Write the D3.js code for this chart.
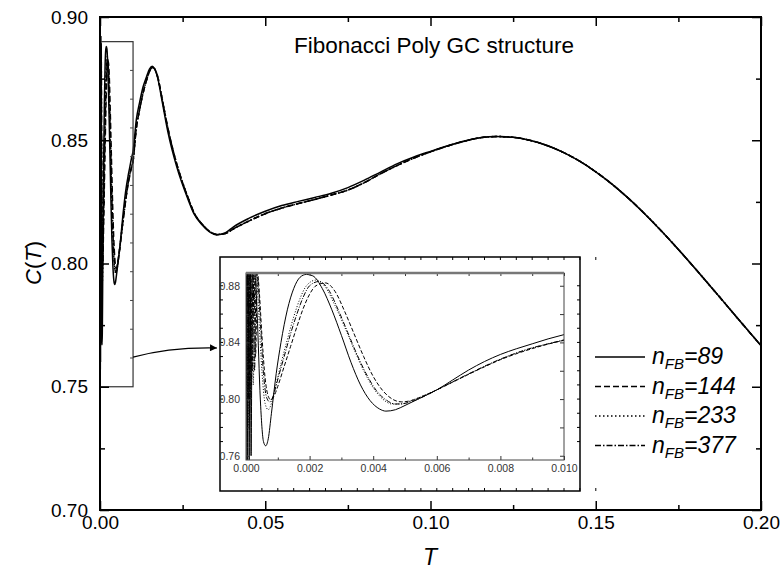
<!DOCTYPE html>
<html>
<head>
<meta charset="utf-8">
<script src="https://cdn.jsdelivr.net/npm/d3@7"></script>
<style>
  body { margin: 0; background: #fff; }
  svg { display: block; font-family: "Liberation Sans", Arial, sans-serif; }
</style>
</head>
<body>
<svg id="chart" width="784" height="569"></svg>
<script>

// ---- data ----
// early part of each series, T <= 0.010 (what the inset shows)
let series89 = [[0,0.757],[0.00002,0.889],[0.00004,0.757],[0.00007,0.889],[0.0001,0.757],[0.00013,0.889],[0.00016,0.76],[0.0002,0.889],[0.00026,0.892],[0.00035,0.86],[0.00045,0.80],[0.00055,0.770],[0.00062,0.767],[0.0007,0.772],[0.0008,0.79],[0.00095,0.818],[0.0011,0.84],[0.0013,0.863],[0.0015,0.878],[0.0017,0.886],[0.0019,0.888],[0.0021,0.887],[0.0024,0.878],[0.0027,0.863],[0.003,0.845],[0.0033,0.826],[0.0036,0.81],[0.0039,0.799],[0.0042,0.793],[0.0044,0.7915],[0.0047,0.7925],[0.005,0.7955],[0.0055,0.801],[0.006,0.8065],[0.0065,0.8135],[0.007,0.8205],[0.0075,0.8265],[0.008,0.8315],[0.0085,0.8355],[0.009,0.839],[0.0095,0.8425],[0.01,0.8455]];

let series144 = [[0,0.81],[0.00005,0.889],[0.0001,0.81],[0.00015,0.889],[0.0002,0.82],[0.00025,0.889],[0.0003,0.83],[0.00036,0.889],[0.00042,0.875],[0.0005,0.845],[0.0006,0.815],[0.0007,0.802],[0.00078,0.7995],[0.0009,0.803],[0.001,0.809],[0.0012,0.823],[0.0014,0.837],[0.0016,0.851],[0.0018,0.864],[0.002,0.874],[0.0022,0.880],[0.0025,0.882],[0.0028,0.876],[0.0031,0.862],[0.0034,0.846],[0.0037,0.830],[0.004,0.816],[0.0043,0.806],[0.0046,0.800],[0.0049,0.798],[0.0052,0.799],[0.0056,0.8025],[0.006,0.8065],[0.0065,0.812],[0.007,0.8175],[0.0075,0.8228],[0.008,0.8278],[0.0085,0.832],[0.009,0.8356],[0.0095,0.8388],[0.01,0.8415]];

let series233 = [[0,0.80],[0.00003,0.889],[0.00006,0.78],[0.0001,0.889],[0.00014,0.80],[0.00018,0.889],[0.00023,0.81],[0.00028,0.887],[0.00033,0.889],[0.0004,0.86],[0.0005,0.82],[0.0006,0.797],[0.0007,0.7925],[0.0008,0.797],[0.0009,0.806],[0.0011,0.825],[0.0013,0.842],[0.0015,0.858],[0.0017,0.871],[0.0019,0.880],[0.0022,0.884],[0.0025,0.879],[0.0028,0.866],[0.0031,0.851],[0.0034,0.835],[0.0037,0.82],[0.004,0.808],[0.0043,0.800],[0.0046,0.7965],[0.0049,0.7965],[0.0052,0.799],[0.0056,0.8025],[0.006,0.8065],[0.0065,0.812],[0.007,0.8175],[0.0075,0.823],[0.008,0.828],[0.0085,0.8325],[0.009,0.836],[0.0095,0.839],[0.01,0.8415]];

let series377 = [[0,0.82],[0.00004,0.889],[0.00008,0.80],[0.00012,0.889],[0.00017,0.81],[0.00022,0.889],[0.00027,0.82],[0.00032,0.888],[0.00037,0.885],[0.00045,0.855],[0.00055,0.818],[0.00065,0.801],[0.00075,0.798],[0.00085,0.802],[0.001,0.814],[0.0012,0.830],[0.0014,0.846],[0.0016,0.860],[0.0018,0.872],[0.002,0.880],[0.0023,0.883],[0.0026,0.877],[0.0029,0.863],[0.0032,0.847],[0.0035,0.831],[0.0038,0.817],[0.0041,0.806],[0.0044,0.7995],[0.0047,0.7965],[0.005,0.797],[0.0053,0.799],[0.0057,0.803],[0.006,0.8065],[0.0065,0.8122],[0.007,0.8178],[0.0075,0.8232],[0.008,0.8282],[0.0085,0.8325],[0.009,0.8362],[0.0095,0.839],[0.01,0.8418]];

// rest of the curve, T > 0.010 (main plot). n=89 and the three longer chains
let tailT = [0.011,0.012,0.013,0.014,0.015,0.0158,0.0165,0.0175,0.0187,0.0206,0.0232,0.0267,0.0285,0.031,0.0335,0.0353,0.038,0.0403,0.045,0.05,0.055,0.06,0.065,0.07,0.075,0.08,0.085,0.09,0.095,0.1,0.105,0.11,0.115,0.12,0.125,0.13,0.135,0.14,0.145,0.15,0.155,0.16,0.165,0.17,0.175,0.18,0.185,0.19,0.195,0.2];
let tail89 = [0.8585,0.8655,0.8715,0.8755,0.879,0.880,0.879,0.875,0.8665,0.853,0.8393,0.8258,0.820,0.8155,0.8125,0.8116,0.8125,0.8148,0.8183,0.8212,0.8235,0.8252,0.8268,0.8285,0.8308,0.8338,0.8372,0.8405,0.8432,0.8455,0.8477,0.8496,0.851,0.8515,0.8512,0.850,0.848,0.8452,0.8416,0.8372,0.8321,0.8263,0.8199,0.813,0.8057,0.7981,0.7903,0.7824,0.7745,0.7667];
let tailOthers = [0.855,0.8625,0.869,0.874,0.878,0.8795,0.879,0.8755,0.8675,0.8545,0.8405,0.8265,0.8205,0.8158,0.8127,0.8118,0.8122,0.814,0.8172,0.8202,0.8225,0.8243,0.826,0.8278,0.8298,0.8328,0.8365,0.8398,0.8428,0.8453,0.8476,0.8495,0.851,0.8515,0.8512,0.850,0.848,0.8452,0.8416,0.8372,0.8321,0.8263,0.8199,0.813,0.8057,0.7981,0.7903,0.7824,0.7745,0.7667];

let legendValues = [89, 144, 233, 377];
let dashStyles = ["none", "6,3", "1.5,2.5", "6,2,1.5,2"];
let insetDash = ["none", "4,2", "1,1.8", "5,1.5,1,1.5"];

let xTicks = [0, 0.05, 0.10, 0.15, 0.20];
let yTicks = [0.70, 0.75, 0.80, 0.85, 0.90];
let insetXTicks = [0, 0.002, 0.004, 0.006, 0.008, 0.010];
let insetYTicks = [0.76, 0.80, 0.84, 0.88];

// zoom window drawn on the main plot
let zoomT = [0, 0.01];
let zoomC = [0.75, 0.89];

// ---- build full series ----
function withTail(early, tail) {
    let out = early.slice();
    tailT.forEach(function(t, i) { out.push([t, tail[i]]); });
    return out;
}
let allSeries = [
    withTail(series89, tail89),
    withTail(series144, tailOthers),
    withTail(series233, tailOthers),
    withTail(series377, tailOthers)
];
let insetSeries = [series89, series144, series233, series377];

const svg = d3.select("#chart");

// ---- main plot ----
let x = d3.scaleLinear().domain([0, 0.2]).range([100, 761]);
let y = d3.scaleLinear().domain([0.7, 0.9]).range([510, 17]);

svg.append("clipPath").attr("id", "mainClip")
    .append("rect").attr("x", 100).attr("y", 17).attr("width", 661).attr("height", 493);

let line = d3.line()
    .x(d => x(d[0]))
    .y(d => y(d[1]))
    .curve(d3.curveMonotoneX);

svg.append("g").attr("clip-path", "url(#mainClip)")
    .selectAll("path")
    .data(allSeries)
    .enter()
    .append("path")
    .attr("d", line)
    .attr("fill", "none")
    .attr("stroke", "#000")
    .attr("stroke-width", 1.5)
    .attr("stroke-dasharray", (d, i) => dashStyles[i]);

// zoom window rectangle
svg.append("rect")
    .attr("x", x(zoomT[0]))
    .attr("y", y(zoomC[1]))
    .attr("width", x(zoomT[1]) - x(zoomT[0]))
    .attr("height", y(zoomC[0]) - y(zoomC[1]))
    .attr("fill", "none")
    .attr("stroke", "#333")
    .attr("stroke-width", 1.2);

// little ticks on the window's right edge
svg.append("g").selectAll("line")
    .data(d3.range(1, 12).map(k => zoomC[0] + k * (zoomC[1] - zoomC[0]) / 12))
    .enter().append("line")
    .attr("x1", x(zoomT[1])).attr("x2", x(zoomT[1]) - 3)
    .attr("y1", d => y(d)).attr("y2", d => y(d))
    .attr("stroke", "#444").attr("stroke-width", 1);

// axes (ticks point inward, minor ticks in between)
function styleAxis(g) {
    g.select(".domain").remove();
    g.selectAll(".tick line").attr("stroke", "#000").attr("stroke-width", 1.5);
    g.selectAll(".tick text").attr("fill", "#000").attr("font-size", 19)
        .attr("font-family", "'Liberation Sans', Arial, sans-serif");
}
let xMinor = d3.range(0.025, 0.2, 0.05);
let yMinor = d3.range(0.725, 0.9, 0.05);

svg.append("g").attr("transform", "translate(0,510)")
    .call(d3.axisBottom(x).tickValues(xTicks).tickFormat(d3.format(".2f")).tickSize(-9).tickPadding(6))
    .call(styleAxis);
svg.append("g").attr("transform", "translate(0,510)")
    .call(d3.axisBottom(x).tickValues(xMinor).tickFormat("").tickSize(-5))
    .call(styleAxis);
svg.append("g").attr("transform", "translate(0,17)")
    .call(d3.axisTop(x).tickValues(xTicks).tickFormat("").tickSize(-9))
    .call(styleAxis);
svg.append("g").attr("transform", "translate(0,17)")
    .call(d3.axisTop(x).tickValues(xMinor).tickFormat("").tickSize(-5))
    .call(styleAxis);
svg.append("g").attr("transform", "translate(100,0)")
    .call(d3.axisLeft(y).tickValues(yTicks).tickFormat(d3.format(".2f")).tickSize(-9).tickPadding(12))
    .call(styleAxis);
svg.append("g").attr("transform", "translate(100,0)")
    .call(d3.axisLeft(y).tickValues(yMinor).tickFormat("").tickSize(-5))
    .call(styleAxis);
svg.append("g").attr("transform", "translate(761,0)")
    .call(d3.axisRight(y).tickValues(yTicks).tickFormat("").tickSize(-9))
    .call(styleAxis);
svg.append("g").attr("transform", "translate(761,0)")
    .call(d3.axisRight(y).tickValues(yMinor).tickFormat("").tickSize(-5))
    .call(styleAxis);

// frame
svg.append("rect").attr("x", 100).attr("y", 17).attr("width", 661).attr("height", 493)
    .attr("fill", "none").attr("stroke", "#000").attr("stroke-width", 2);

// axis titles
svg.append("text").attr("x", 430).attr("y", 565)
    .attr("text-anchor", "middle").attr("font-size", 23).attr("font-style", "italic")
    .text("T");
svg.append("text").attr("transform", "translate(41,263) rotate(-90)")
    .attr("text-anchor", "middle").attr("font-size", 22)
    .html("<tspan font-style='italic'>C</tspan>(<tspan font-style='italic'>T</tspan>)");

svg.append("text").attr("x", 294).attr("y", 53)
    .attr("font-size", 22.5)
    .text("Fibonacci Poly GC structure");

// ---- legend ----
let legend = svg.append("g").selectAll("g")
    .data(legendValues)
    .enter().append("g")
    .attr("transform", (d, i) => "translate(0," + (364 + i * 29.5) + ")");
legend.append("line")
    .attr("x1", 595).attr("x2", 645).attr("y1", -7).attr("y2", -7)
    .attr("stroke", "#000").attr("stroke-width", 1.3)
    .attr("stroke-dasharray", (d, i) => dashStyles[i]);
let lt = legend.append("text").attr("x", 652).attr("y", 0)
    .attr("font-size", 23).attr("font-style", "italic");
lt.append("tspan").text("n");
lt.append("tspan").attr("font-size", 15).attr("dy", 5).text("FB");
lt.append("tspan").attr("dy", -5).text(d => "=" + d);

// ---- arrow from window to inset ----
svg.append("defs").append("marker")
    .attr("id", "arrowHead").attr("viewBox", "0 0 10 10")
    .attr("refX", 10).attr("refY", 5)
    .attr("markerWidth", 9).attr("markerHeight", 7)
    .attr("markerUnits", "userSpaceOnUse")
    .attr("orient", "auto")
    .append("path").attr("d", "M0,0L10,5L0,10Z").attr("fill", "#000");

let arrowStart = [x(zoomT[1]), y(0.762)];
let arrowEnd = [217, 348];
svg.append("path")
    .attr("d", "M" + arrowStart + "Q" + [(arrowStart[0] + arrowEnd[0]) / 2 - 5, arrowEnd[1] - 1] + " " + arrowEnd)
    .attr("fill", "none").attr("stroke", "#000").attr("stroke-width", 1.2)
    .attr("marker-end", "url(#arrowHead)");

// ---- inset ----
let ix = d3.scaleLinear().domain([0, 0.01]).range([246, 564]);
let iy = d3.scaleLinear().domain([0.757, 0.889]).range([460, 273]);

let inset = svg.append("g");
inset.append("rect").attr("x", 220).attr("y", 257).attr("width", 360).attr("height", 234)
    .attr("fill", "#fff").attr("stroke", "#000").attr("stroke-width", 1.5);

// small ticks on the outer frame
let outerX = d3.range(0.0005, 0.0112, 0.0005).map(ix);
let outerY = d3.range(0.77, 0.889, 0.01).map(iy);
inset.append("g").selectAll("line").data(outerX).enter().append("line")
    .attr("x1", d => d).attr("x2", d => d).attr("y1", 491).attr("y2", 488)
    .attr("stroke", "#000");
inset.append("g").selectAll("line").data(outerX).enter().append("line")
    .attr("x1", d => d).attr("x2", d => d).attr("y1", 257).attr("y2", 260)
    .attr("stroke", "#000");
inset.append("g").selectAll("line").data(outerY).enter().append("line")
    .attr("x1", 220).attr("x2", 223).attr("y1", d => d).attr("y2", d => d)
    .attr("stroke", "#000");
inset.append("g").selectAll("line").data(outerY).enter().append("line")
    .attr("x1", 580).attr("x2", 577).attr("y1", d => d).attr("y2", d => d)
    .attr("stroke", "#000");

inset.append("clipPath").attr("id", "insetClip")
    .append("rect").attr("x", 246).attr("y", 273).attr("width", 318).attr("height", 187);

let insetLine = d3.line()
    .x(d => ix(d[0]))
    .y(d => iy(d[1]))
    .curve(d3.curveMonotoneX);

inset.append("g").attr("clip-path", "url(#insetClip)")
    .selectAll("path")
    .data(insetSeries)
    .enter()
    .append("path")
    .attr("d", insetLine)
    .attr("fill", "none")
    .attr("stroke", "#000")
    .attr("stroke-width", 1)
    .attr("stroke-dasharray", (d, i) => insetDash[i]);

function styleInset(g) {
    g.select(".domain").remove();
    g.selectAll(".tick line").attr("stroke", "#333").attr("stroke-width", 1);
    g.selectAll(".tick text").attr("fill", "#333").attr("font-size", 10.5)
        .attr("font-family", "'Liberation Sans', Arial, sans-serif");
}
let ixMinor = d3.range(0.001, 0.01, 0.002);
let iyMinor = [0.78, 0.82, 0.86];

inset.append("g").attr("transform", "translate(0,460)")
    .call(d3.axisBottom(ix).tickValues(insetXTicks).tickFormat(d3.format(".3f")).tickSize(-4).tickPadding(5))
    .call(styleInset);
inset.append("g").attr("transform", "translate(0,460)")
    .call(d3.axisBottom(ix).tickValues(ixMinor).tickFormat("").tickSize(-2.5))
    .call(styleInset);
inset.append("g").attr("transform", "translate(0,273)")
    .call(d3.axisTop(ix).tickValues(insetXTicks.concat(ixMinor)).tickFormat("").tickSize(-3))
    .call(styleInset);
inset.append("g").attr("transform", "translate(246,0)")
    .call(d3.axisLeft(iy).tickValues(insetYTicks).tickFormat(d3.format(".2f")).tickSize(-4).tickPadding(6))
    .call(styleInset);
inset.append("g").attr("transform", "translate(246,0)")
    .call(d3.axisLeft(iy).tickValues(iyMinor).tickFormat("").tickSize(-2.5))
    .call(styleInset);
inset.append("g").attr("transform", "translate(564,0)")
    .call(d3.axisRight(iy).tickValues(insetYTicks.concat(iyMinor)).tickFormat("").tickSize(-4))
    .call(styleInset);

// inner frame, top edge drawn heavier and grey
inset.append("rect").attr("x", 246).attr("y", 273).attr("width", 318).attr("height", 187)
    .attr("fill", "none").attr("stroke", "#444").attr("stroke-width", 1);
inset.append("line").attr("x1", 246).attr("x2", 564).attr("y1", 273).attr("y2", 273)
    .attr("stroke", "#777").attr("stroke-width", 2.5);

</script>
</body>
</html>
